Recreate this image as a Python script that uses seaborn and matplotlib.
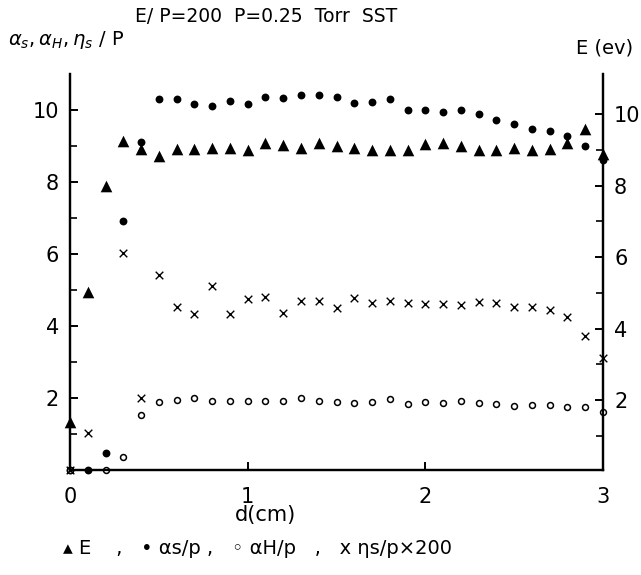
import numpy as np
import matplotlib
matplotlib.use("Agg")
import matplotlib.pyplot as plt
import seaborn as sns

# ---- data ----
d_cm = [0.0, 0.1, 0.2, 0.3, 0.4, 0.5, 0.6, 0.7, 0.8, 0.9, 1.0, 1.1, 1.2, 1.3, 1.4, 1.5,
        1.6, 1.7, 1.8, 1.9, 2.0, 2.1, 2.2, 2.3, 2.4, 2.5, 2.6, 2.7, 2.8, 2.9, 3.0]
alpha_s = [0.0, 0.0, 0.46, 6.92, 9.10, 10.30, 10.30, 10.16, 10.12, 10.25, 10.16, 10.37, 10.32,
           10.42, 10.42, 10.35, 10.20, 10.23, 10.30, 10.00, 10.00, 9.94, 10.00, 9.89, 9.72,
           9.60, 9.47, 9.43, 9.28, 9.01, 8.61]
alpha_h = [0.0, np.nan, 0.0, 0.37, 1.53, 1.90, 1.94, 1.99, 1.92, 1.92, 1.92, 1.92, 1.92, 1.99,
           1.92, 1.90, 1.85, 1.90, 1.96, 1.83, 1.89, 1.87, 1.92, 1.87, 1.83, 1.78, 1.80, 1.81,
           1.76, 1.76, 1.62]
eta_s = [0.0, 1.04, np.nan, 6.02, 2.01, 5.42, 4.54, 4.32, 5.11, 4.32, 4.74, 4.81, 4.37, 4.70,
         4.70, 4.49, 4.77, 4.63, 4.70, 4.65, 4.61, 4.61, 4.58, 4.68, 4.65, 4.54, 4.52, 4.44,
         4.24, 3.72, 3.10]
energy = [1.39, 5.02, 7.99, 9.24, 9.02, 8.82, 9.03, 9.03, 9.07, 9.07, 9.00, 9.19, 9.14, 9.07,
          9.21, 9.10, 9.05, 9.00, 9.00, 9.00, 9.16, 9.19, 9.10, 9.00, 9.00, 9.05, 9.00, 9.03,
          9.19, 9.58, 8.89]
x_ticks = [0, 1, 2, 3]
y_major = [2, 4, 6, 8, 10]
y_minor = [1, 3, 5, 7, 9]

sns.set_style("ticks")
plt.rcParams['font.family'] = ['DejaVu Sans']
plt.rcParams.update({'text.color': 'black', 'axes.labelcolor': 'black',
                     'xtick.color': 'black', 'ytick.color': 'black'})

fig = plt.figure(figsize=(6.41, 5.75), dpi=100)
ax = fig.add_axes([70/641, 1-470/575, (603-70)/641, (470-74)/575])
ax2 = ax.twinx()

sns.scatterplot(x=d_cm, y=alpha_s, ax=ax, marker='o', s=32, color='black',
                edgecolor='black', linewidth=0, clip_on=False, zorder=3)
sns.scatterplot(x=d_cm, y=alpha_h, ax=ax, marker='o', s=18, facecolor='white',
                edgecolor='black', linewidth=1.1, clip_on=False, zorder=3)
sns.scatterplot(x=d_cm, y=eta_s, ax=ax, marker='x', s=30, color='black',
                linewidth=1.0, clip_on=False, zorder=3)
sns.scatterplot(x=d_cm, y=energy, ax=ax2, marker='^', s=70, color='black',
                edgecolor='black', linewidth=0, clip_on=False, zorder=3)

ax.set_xlim(0, 3)
ax.set_ylim(0, 11)
ax2.set_ylim(0.04, 11.13)

for a in (ax, ax2):
    a.spines['top'].set_visible(False)
    for s in ('left', 'right', 'bottom'):
        a.spines[s].set_linewidth(1.6)
        a.spines[s].set_color('black')
    a.set_xlabel('')
    a.set_ylabel('')

ax.set_xticks(x_ticks)
ax.set_xticklabels([str(t) for t in x_ticks])
ax.set_yticks(y_major)
ax.set_yticklabels([str(t) for t in y_major])
ax.set_yticks(y_minor, minor=True)
ax2.set_yticks(y_major)
ax2.set_yticklabels([str(t) for t in y_major])
ax2.set_yticks(y_minor, minor=True)

ax.tick_params(axis='both', which='major', direction='in', length=6, width=1.4,
               labelsize=15, pad=8, colors='black')
ax.tick_params(axis='y', which='minor', direction='in', length=5, width=1.2, colors='black')
ax.tick_params(axis='x', which='major', pad=12)
ax2.tick_params(axis='y', which='major', direction='in', length=6, width=1.4,
                labelsize=15, pad=8, colors='black')
ax2.tick_params(axis='y', which='minor', direction='in', length=5, width=1.2, colors='black')

# texts
fig.text(266/641, 1-16/575, 'E/ P=200  P=0.25  Torr  SST', ha='center', va='center',
         fontsize=13.5, color='black')
fig.text(8/641, 1-40/575, r'$\alpha_s, \alpha_H, \eta_s$ / P', ha='left', va='center',
         fontsize=14, color='black')
fig.text(576/641, 1-48/575, 'E (ev)', ha='left', va='center', fontsize=14, color='black')
fig.text(265/641, 1-515/575, 'd(cm)', ha='center', va='center', fontsize=15, color='black')
fig.text(63/641, 1-548/575, '▴ E    ,   • αs/p ,   ◦ αH/p   ,   x ηs/p×200',
         ha='left', va='center', fontsize=14, color='black')

fig.savefig('out.png', dpi=100)
